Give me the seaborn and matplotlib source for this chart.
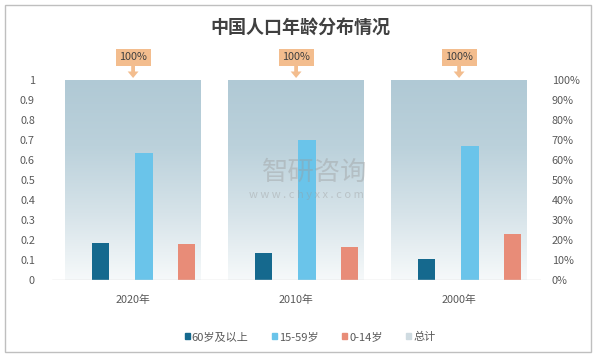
import seaborn as sns
import matplotlib.pyplot as plt
import matplotlib.patches as mpatches
from matplotlib.colors import LinearSegmentedColormap
from matplotlib.ticker import FuncFormatter, PercentFormatter
import numpy as np
import pandas as pd

# 数据
years = ['2020年', '2010年', '2000年']
age_60_plus = [0.1870, 0.1326, 0.1033]
age_15_59 = [0.6335, 0.7014, 0.6678]
age_0_14 = [0.1795, 0.1660, 0.2289]
total = [1.0, 1.0, 1.0]
series_names = ['60岁及以上', '15-59岁', '0-14岁', '总计']
total_labels = ['100%', '100%', '100%']

sns.set_theme(style='white')
plt.rcParams['font.family'] = ['Noto Sans CJK SC', 'DejaVu Sans']
plt.rcParams['axes.unicode_minus'] = False

df = pd.DataFrame({'year': years, '60岁及以上': age_60_plus, '15-59岁': age_15_59,
                   '0-14岁': age_0_14, '总计': total})

colors = {'60岁及以上': '#15698e', '15-59岁': '#6ac4ea', '0-14岁': '#e88c78', '总计': '#cfdbe1'}
offsets = {'60岁及以上': -0.2, '15-59岁': 0.067, '0-14岁': 0.33}
text_color = '#595959'

fig = plt.figure(figsize=(6, 3.62), dpi=100)
ax = fig.add_axes([0.086, 0.2265, 0.815, 0.5525])

# 总计背景柱（渐变）
sns.barplot(data=df, x='year', y='总计', color='white', width=0.83, ax=ax, zorder=0.5)
grad_cmap = LinearSegmentedColormap.from_list('g', ['#f6f9fa', '#d6e3e9', '#bbd1db', '#b0c9d5'])
grad = np.linspace(0, 1, 256).reshape(-1, 1)
for p in list(ax.patches):
    p.set_facecolor('none')
    p.set_edgecolor('none')
    x0, w, h = p.get_x(), p.get_width(), p.get_height()
    im = ax.imshow(grad, extent=[x0, x0 + w, 0, h], origin='lower', aspect='auto',
                   cmap=grad_cmap, zorder=0.5)
    im.set_clip_path(p)

# 三个年龄段柱子
for name in ['60岁及以上', '15-59岁', '0-14岁']:
    n0 = len(ax.patches)
    sns.barplot(data=df, x='year', y=name, color=colors[name], saturation=1,
                width=0.105, ax=ax, zorder=2)
    for p in ax.patches[n0:]:
        p.set_x(p.get_x() + offsets[name])
        p.set_edgecolor('none')

ax.set_xlim(-0.5, 2.5)
ax.set_ylim(0, 1)
ax.set_yticks(np.arange(0, 1.01, 0.1))
ax.yaxis.set_major_formatter(FuncFormatter(lambda v, _: f'{v:.1f}'.rstrip('0').rstrip('.') if v else '0'))
ax.set_xlabel('')
ax.set_ylabel('')
ax.tick_params(axis='both', length=0, labelsize=7.8, colors=text_color)
ax.tick_params(axis='x', pad=11)
ax.tick_params(axis='y', pad=12)
for s in ax.spines.values():
    s.set_visible(False)
ax.axhline(0, color='#d9d9d9', lw=1, zorder=3)

# 次坐标轴百分比
ax2 = ax.twinx()
ax2.set_ylim(0, 1)
ax2.set_yticks(np.arange(0, 1.01, 0.1))
ax2.yaxis.set_major_formatter(PercentFormatter(1.0, decimals=0))
ax2.tick_params(axis='y', length=0, labelsize=7.8, colors=text_color, pad=8)
for s in ax2.spines.values():
    s.set_visible(False)

# 100% 标注
for i, lab in enumerate(total_labels):
    ax.annotate(lab, xy=(i, 1.01), xytext=(0, 15), textcoords='offset points',
                ha='center', va='center', fontsize=7.8, color='#404040',
                bbox=dict(boxstyle='square,pad=0.32', fc='#f3bd8e', ec='none'),
                arrowprops=dict(arrowstyle='simple,head_width=1.0,head_length=0.6,tail_width=0.35',
                                fc='#f3bd8e', ec='none', shrinkA=0, shrinkB=0),
                annotation_clip=False)

# 水印
fig.text(0.525, 0.525, '智研咨询', fontsize=19, color='#9a9a9a', alpha=0.4,
         ha='center', va='center')
fig.text(0.51, 0.462, 'w w w . c h y x x . c o m', fontsize=8, color='#9a9a9a', alpha=0.4,
         ha='center', va='center')

# 标题
fig.text(0.5, 0.925, '中国人口年龄分布情况', fontsize=13, fontweight='bold',
         color='#404040', ha='center', va='center')

# 图例
handles = [mpatches.Patch(color=colors[n], label=n) for n in series_names]
fig.legend(handles=handles, loc='center', bbox_to_anchor=(0.517, 0.07), ncol=4,
           frameon=False, fontsize=8, handlelength=0.45, handleheight=0.45,
           handletextpad=0.2, columnspacing=2.1, labelcolor=text_color)

# 外框
fig.patches.append(mpatches.Rectangle((0.008, 0.027), 0.977, 0.96, transform=fig.transFigure,
                                      fill=False, ec='#bfbfbf', lw=1))

fig.savefig('out.png', dpi=100)
